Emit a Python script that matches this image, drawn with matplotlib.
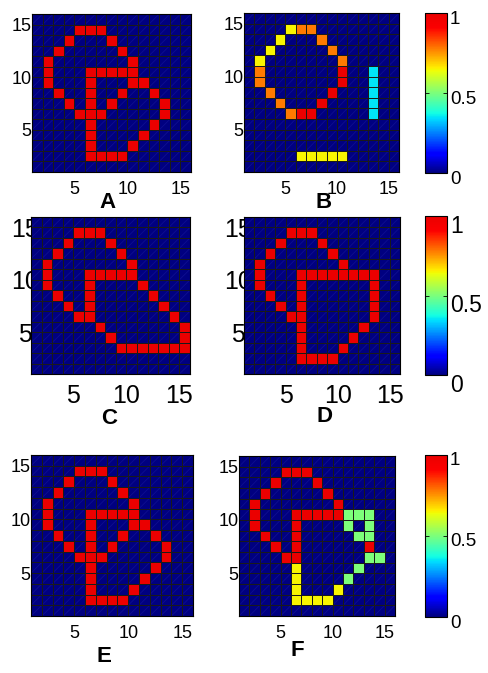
import numpy as np
import matplotlib
matplotlib.use('Agg')
import matplotlib.pyplot as plt
from matplotlib.colors import ListedColormap
from matplotlib.collections import LineCollection
from matplotlib.transforms import ScaledTranslation

plt.rcParams['font.family'] = ['Liberation Sans', 'DejaVu Sans']

# cell code -> value on the 0..1 colour scale
codes = {'.': 0.0, 'r': 1.0, 'o': 0.78, 'y': 0.65, 'c': 0.35, 'g': 0.5}

# rows from top (y=15) down to bottom (y=1), columns x=1..15
panel_A = ["...............",
           "....rrr........",
           "...r...r.......",
           "..r.....r......",
           ".r.......r.....",
           ".r...rrrrr.....",
           ".r...r...rr....",
           "..r..r..r..r...",
           "...r.r.r....r..",
           "....rrr.....r..",
           ".....r.....r...",
           ".....r....r....",
           ".....r...r.....",
           ".....rrrr......",
           "..............."]

panel_B = ["...............",
           "....yoo........",
           "...y...o.......",
           "..y.....o......",
           ".y.......o.....",
           ".o.......r..c..",
           ".o.......r..c..",
           "..o.....r...c..",
           "...o...r....c..",
           "....orr.....c..",
           "...............",
           "...............",
           "...............",
           ".....yyyyy.....",
           "..............."]

panel_C = ["...............",
           "....rrr........",
           "...r...r.......",
           "..r.....r......",
           ".r.......r.....",
           ".r...rrrrr.....",
           ".r...r....r....",
           "..r..r.....r...",
           "...r.r......r..",
           "....rr.......r.",
           "......r.......r",
           ".......r......r",
           "........rrrrrrr",
           "...............",
           "..............."]

panel_D = ["...............",
           "....rrr........",
           "...r...r.......",
           "..r.....r......",
           ".r.......r.....",
           ".r...rrrrrrrr..",
           ".r...r......r..",
           "..r..r......r..",
           "...r.r......r..",
           "....rr......r..",
           ".....r.....r...",
           ".....r....r....",
           ".....r...r.....",
           ".....rrrr......",
           "..............."]

panel_E = list(panel_A)

panel_F = ["...............",
           "....rrr........",
           "...r...r.......",
           "..r.....r......",
           ".r.......r.....",
           ".r...rrrrrggg..",
           ".r...r....g.g..",
           "..r..r.....gg..",
           "...r.r......r..",
           "....rr......gg.",
           ".....y.....g...",
           ".....y....g....",
           ".....y...y.....",
           ".....yyyy......",
           "..............."]

cbar_ticks = [0, 0.5, 1]
cbar_labels = ['0', '0.5', '1']

# jet-like map whose top end stays bright red
base = plt.cm.jet(np.linspace(0, 1, 256))
t = np.linspace(0, 1, 256)
top = t > 0.89
base[top, 0] = 1.0 - 0.08 * (t[top] - 0.89) / 0.11
cmap = ListedColormap(base)

W, H = 488, 673
fig = plt.figure(figsize=(W / 100, H / 100), dpi=100)


def box(l, t, r, b):
    return [l / W, 1 - b / H, (r - l) / W, (b - t) / H]


def to_grid(rows):
    return np.array([[codes[ch] for ch in row] for row in rows[::-1]])


panels = [
    ('A', panel_A, (32, 14, 191, 172), 13, (107, 203), False),
    ('B', panel_B, (244, 13, 399, 172), 13, (324, 203), False),
    ('C', panel_C, (31, 217, 190, 374), 18, (109, 418), True),
    ('D', panel_D, (244, 217, 400, 374), 18, (325, 416), True),
    ('E', panel_E, (31, 455, 193, 616), 13, (104, 657), False),
    ('F', panel_F, (239, 456, 395, 616), 13, (297, 651), False),
]

edges = np.arange(1, 17)
mesh = None
for letter, rows, pos, fs, lpos, middle in panels:
    ax = fig.add_axes(box(*pos))
    Z = to_grid(rows)
    mesh = ax.pcolormesh(edges, edges, Z, cmap=cmap, vmin=0, vmax=1,
                         edgecolors='none', antialiased=False)
    # faint diagonal seams seen in the blue cells
    yy, xx = np.nonzero(Z == 0)
    segs = [[(x + 1, y + 1), (x + 2, y + 2)] for y, x in zip(yy, xx)]
    ax.add_collection(LineCollection(segs, colors='#5a5ae8', linewidths=0.6,
                                     alpha=0.16, zorder=1.2))
    # cell borders, one pixel wide
    ax.vlines(edges, 1, 16, colors='#1a1a1a', linewidth=0.72, snap=True,
              zorder=1.5)
    ax.hlines(edges, 1, 16, colors='#1a1a1a', linewidth=0.72, snap=True,
              zorder=1.5)
    ax.set_xlim(1, 16)
    ax.set_ylim(1, 16)
    ax.set_xticks([5, 10, 15])
    ax.set_yticks([5, 10, 15])
    ax.set_axisbelow(True)
    for sp in ax.spines.values():
        sp.set_linewidth(0.8)
        sp.set_zorder(3)
    if middle:
        ax.tick_params(axis='x', length=0, pad=7.5, labelsize=fs)
        ax.tick_params(axis='y', length=0, pad=4, labelsize=fs)
        for lab in ax.get_yticklabels():
            lab.set_horizontalalignment('center')
    else:
        ax.tick_params(axis='x', length=0, pad=6.5, labelsize=fs)
        ax.tick_params(axis='y', length=0, pad=0.5, labelsize=fs)
    fig.text(lpos[0] / W, 1 - lpos[1] / H, letter, fontsize=16,
             fontweight='bold', ha='center', va='center')

colorbars = [((425, 13, 447, 173), 13.5, 4), ((425, 216, 447, 375), 16.5, 8),
             ((425, 455, 447, 617), 13.5, 4)]
for cpos, fs, shift in colorbars:
    cax = fig.add_axes(box(*cpos))
    cb = fig.colorbar(mesh, cax=cax, ticks=cbar_ticks)
    cb.set_ticklabels(cbar_labels)
    cb.outline.set_linewidth(0.8)
    cax.tick_params(left=True, right=True, direction='in', length=3,
                    width=0.6, labelsize=fs, pad=2)
    off = ScaledTranslation(0, -shift / 100, fig.dpi_scale_trans)
    for lab in cax.get_yticklabels():
        lab.set_transform(lab.get_transform() + off)

fig.savefig('out.png', dpi=100)
